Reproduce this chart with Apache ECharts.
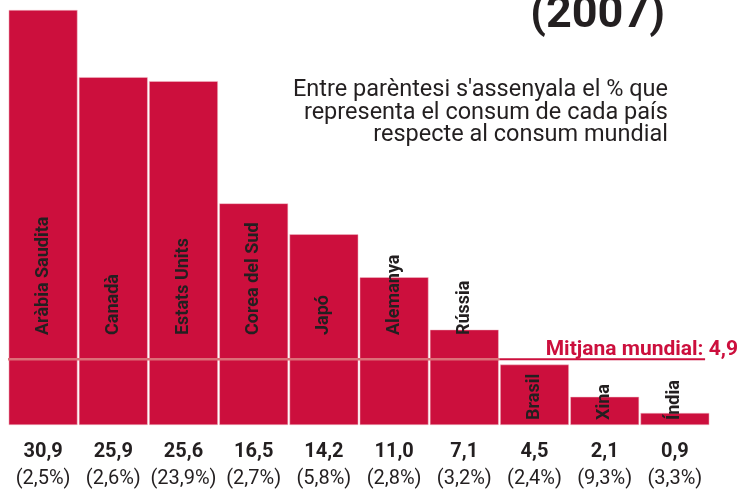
<!DOCTYPE html>
<html>
<head>
<meta charset="utf-8">
<script src="https://cdn.jsdelivr.net/npm/echarts@6/dist/echarts.min.js"></script>
<style>
    html, body { margin: 0; padding: 0; background: #fff; }
    #main { width: 739px; height: 489px; }
</style>
</head>
<body>
<div id="main"></div>
<script>
    // dades
    var countries = ['Aràbia Saudita', 'Canadà', 'Estats Units', 'Corea del Sud', 'Japó', 'Alemanya', 'Rússia', 'Brasil', 'Xina', 'Índia'];
    var values = [30.9, 25.9, 25.6, 16.5, 14.2, 11.0, 7.1, 4.5, 2.1, 0.9];
    var shares = ['2,5%', '2,6%', '23,9%', '2,7%', '5,8%', '2,8%', '3,2%', '2,4%', '9,3%', '3,3%'];
    var worldMean = 4.9;

    var RED = '#cc0f3d';
    var DARK = '#231f20';
    var FONT = 'Roboto';

    function fmt(v) { return v.toFixed(1).replace('.', ','); }

    var above = values.filter(function (v) { return v > worldMean; }).length;

    var barData = values.map(function (v) {
        return {
            value: v,
            label: { distance: v > worldMean ? 90 : 5 }
        };
    });

    var chart = echarts.init(document.getElementById('main'));
    var option = {
        animation: false,
        grid: { left: 8, right: 29, top: 10, bottom: 64 },
        xAxis: [{
            type: 'category',
            data: countries,
            axisLine: { show: false },
            axisTick: { show: false },
            axisLabel: {
                interval: 0,
                margin: 13,
                verticalAlign: 'top',
                formatter: function (name, i) {
                    return '{v|' + fmt(values[i]) + '}\n{p|(' + shares[i] + ')}';
                },
                rich: {
                    v: { fontFamily: FONT, fontSize: 20, fontWeight: 'bold', color: DARK, lineHeight: 27 },
                    p: { fontFamily: FONT, fontSize: 20, color: DARK, lineHeight: 27 }
                }
            }
        }, {
            type: 'value', min: 0, max: values.length, show: false
        }],
        yAxis: { type: 'value', min: 0, max: values[0], show: false },
        series: [{
            type: 'bar',
            data: barData,
            barCategoryGap: '2%',
            itemStyle: { color: RED, borderColor: '#f3c4cd', borderWidth: 0.5 },
            label: {
                show: true,
                position: 'insideBottom',
                rotate: 90,
                align: 'left',
                verticalAlign: 'middle',
                fontFamily: FONT,
                fontSize: 18,
                fontWeight: 'bold',
                color: DARK,
                formatter: function (p) { return countries[p.dataIndex]; }
            }
        }, {
            type: 'line',
            xAxisIndex: 1,
            data: [[0, worldMean], [above, worldMean]],
            symbol: 'none',
            lineStyle: { color: '#dc6f78', width: 2.5 },
            z: 5
        }, {
            type: 'line',
            xAxisIndex: 1,
            data: [[above, worldMean], [9.93, worldMean]],
            symbol: 'none',
            lineStyle: { color: RED, width: 2 },
            z: 5
        }],
        graphic: [{
            type: 'text',
            x: 665, y: -7,
            style: { text: '(2007)', font: 'bold 45px ' + FONT, fill: DARK, align: 'right', verticalAlign: 'top' }
        }, {
            type: 'text',
            x: 668, y: 79,
            style: {
                text: 'Entre parèntesi s\'assenyala el % que\nrepresenta el consum de cada país\nrespecte al consum mundial',
                font: '23.5px ' + FONT, fill: DARK, align: 'right', verticalAlign: 'top', lineHeight: 22.5
            }
        }, {
            type: 'text',
            x: 738, y: 350,
            style: {
                text: 'Mitjana mundial: ' + fmt(worldMean),
                font: 'bold 21px ' + FONT, fill: RED, align: 'right', verticalAlign: 'middle'
            }
        }]
    };
    chart.setOption(option);
</script>
</body>
</html>
